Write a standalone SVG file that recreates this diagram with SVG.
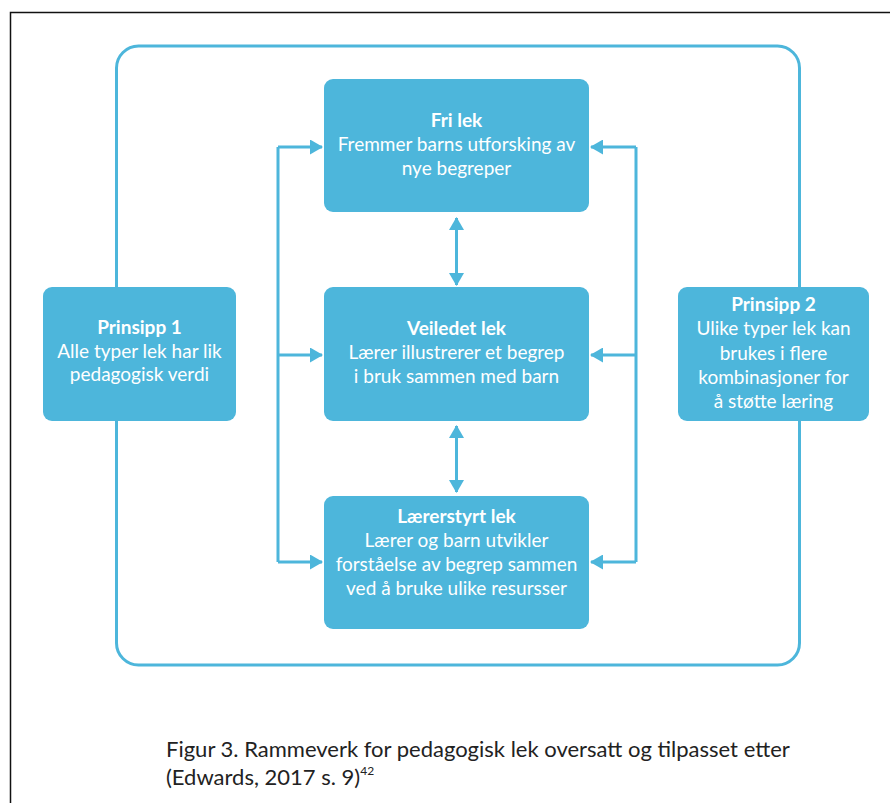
<svg xmlns="http://www.w3.org/2000/svg" width="890" height="803" viewBox="0 0 890 803">
<defs>
<style>
.box{fill:#4DB6DB;}
.t{font-family:Lato,"Open Sans","Liberation Sans",sans-serif;font-size:19px;fill:#ffffff;text-anchor:middle;}
.b{font-weight:bold;}
.ln{stroke:#4DB6DB;stroke-width:3;fill:none;}
.cap{font-family:Lato,"Open Sans","Liberation Sans",sans-serif;font-size:22px;fill:#222222;}
</style>
<marker id="ah" viewBox="0 0 13 15" refX="12" refY="7.5" markerWidth="13" markerHeight="15" markerUnits="userSpaceOnUse" orient="auto-start-reverse">
<path d="M0,0 L13,7.5 L0,15 Z" fill="#4DB6DB"/>
</marker>
</defs>
<rect width="890" height="803" fill="#ffffff"/>
<path d="M10.5,803 L10.5,12.5 L890,12.5" stroke="#111111" stroke-width="1.5" fill="none"/>
<rect x="116.5" y="46" width="683" height="619" rx="22" ry="22" class="ln"/>
<g id="connectors">
<path class="ln" d="M278,147 L278,562"/>
<path class="ln" d="M278,147 L322,147" marker-end="url(#ah)"/>
<path class="ln" d="M278,355 L322,355" marker-end="url(#ah)"/>
<path class="ln" d="M278,562 L322,562" marker-end="url(#ah)"/>
<path class="ln" d="M636,147 L591,147" marker-end="url(#ah)"/>
<path class="ln" d="M636,147 L636,562"/>
<path class="ln" d="M636,355 L591,355" marker-end="url(#ah)"/>
<path class="ln" d="M636,562 L591,562" marker-end="url(#ah)"/>
<path class="ln" d="M456.5,218 L456.5,285" marker-start="url(#ah)" marker-end="url(#ah)"/>
<path class="ln" d="M456.5,426 L456.5,492" marker-start="url(#ah)" marker-end="url(#ah)"/>
</g>
<g id="fri-lek">
<rect class="box" x="324" y="79" width="265" height="133" rx="9"/>
<text class="t b" x="456.5" y="127">Fri lek</text>
<text class="t" x="456.5" y="151">Fremmer barns utforsking av</text>
<text class="t" x="456.5" y="175">nye begreper</text>
</g>
<g id="veiledet-lek">
<rect class="box" x="324" y="287" width="265" height="134" rx="9"/>
<text class="t b" x="456.5" y="335">Veiledet lek</text>
<text class="t" x="456.5" y="359">Lærer illustrerer et begrep</text>
<text class="t" x="456.5" y="383">i bruk sammen med barn</text>
</g>
<g id="larerstyrt-lek">
<rect class="box" x="324" y="496" width="265" height="133" rx="9"/>
<text class="t b" x="456.5" y="523">Lærerstyrt lek</text>
<text class="t" x="456.5" y="547">Lærer og barn utvikler</text>
<text class="t" x="456.5" y="571">forståelse av begrep sammen</text>
<text class="t" x="456.5" y="595">ved å bruke ulike resursser</text>
</g>
<g id="prinsipp-1">
<rect class="box" x="43" y="287" width="193" height="134" rx="9"/>
<text class="t b" x="139.5" y="334">Prinsipp 1</text>
<text class="t" x="139.5" y="358">Alle typer lek har lik</text>
<text class="t" x="139.5" y="381">pedagogisk verdi</text>
</g>
<g id="prinsipp-2">
<rect class="box" x="678" y="287" width="191" height="134" rx="9"/>
<text class="t b" x="773.5" y="311">Prinsipp 2</text>
<text class="t" x="773.5" y="335">Ulike typer lek kan</text>
<text class="t" x="773.5" y="360">brukes i flere</text>
<text class="t" x="773.5" y="384">kombinasjoner for</text>
<text class="t" x="773.5" y="408">å støtte læring</text>
</g>
<g id="caption">
<text class="cap" x="166" y="757">Figur 3. Rammeverk for pedagogisk lek oversatt og tilpasset etter</text>
<text class="cap" x="166" y="785">(Edwards, 2017 s. 9)<tspan font-size="12" dy="-10">42</tspan></text>
</g>
</svg>
